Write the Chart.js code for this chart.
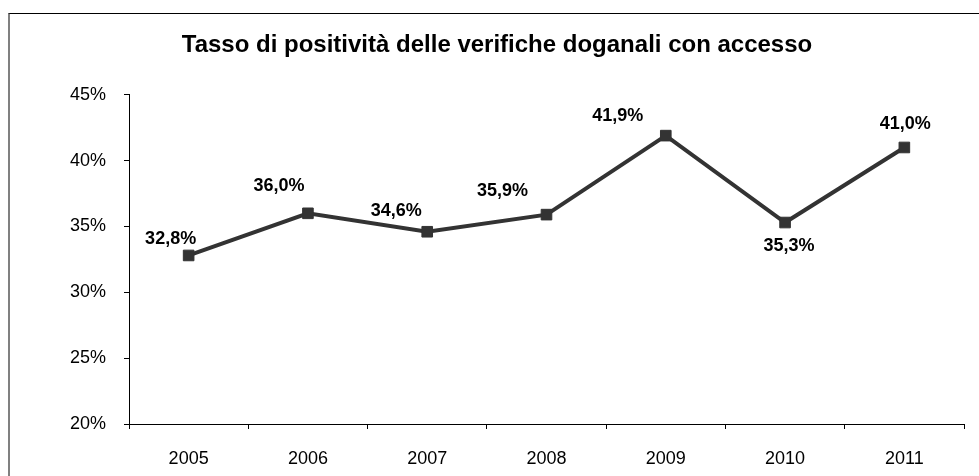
<!DOCTYPE html>
<html lang="it">
<head>
  <meta charset="UTF-8">
  <title>Tasso di positività</title>
  <script src="https://cdn.jsdelivr.net/npm/chart.js"></script>
  <style>
    body {
      margin: 0;
      font-family: "Liberation Sans", Arial, sans-serif;
      background: #fff;
    }
    #wrap {
      position: relative;
      width: 979px;
      height: 476px;
    }
    #frame {
      position: absolute;
      left: 8px;
      top: 13px;
      right: -5px;
      bottom: -5px;
      border-top: 1px solid #000;
      border-left: 2px solid #808080;
    }
    canvas {
      position: absolute;
      left: 0;
      top: 0;
    }
  </style>
</head>
<body>
  <div id="wrap">
    <div id="frame"></div>
    <canvas id="chart" width="979" height="476"></canvas>
  </div>

  <script>
    const anni = ['2005', '2006', '2007', '2008', '2009', '2010', '2011'];
    const tasso = [32.8, 36.0, 34.6, 35.9, 41.9, 35.3, 41.0];
    const yTicks = [20, 25, 30, 35, 40, 45];

    // spostamento delle etichette rispetto al punto (px)
    const labelDx = [-18, -29, -31, -44, -48, 4, 1];
    const labelDy = [-16, -27, -21, -24, -20, 24, -23];

    const fmt = v => v.toFixed(1).replace('.', ',') + '%';

    const etichette = {
      id: 'etichette',
      afterDatasetsDraw(chart) {
        const ctx = chart.ctx;
        const meta = chart.getDatasetMeta(0);
        ctx.save();
        ctx.font = 'bold 18px "Liberation Sans", Arial, sans-serif';
        ctx.fillStyle = '#000';
        ctx.textAlign = 'center';
        ctx.textBaseline = 'middle';
        meta.data.forEach((pt, i) => {
          ctx.fillText(fmt(tasso[i]), pt.x + labelDx[i], pt.y + labelDy[i]);
        });
        ctx.restore();
      }
    };

    const ctx = document.getElementById('chart').getContext('2d');
    new Chart(ctx, {
      type: 'line',
      data: {
        labels: anni,
        datasets: [{
          data: tasso,
          borderColor: '#333333',
          backgroundColor: '#333333',
          borderWidth: 4,
          pointStyle: 'rect',
          pointRadius: 7.5,
          pointBorderWidth: 1,
          tension: 0
        }]
      },
      options: {
        responsive: false,
        animation: false,
        layout: {
          padding: { left: 30, right: 15, top: 20, bottom: 0 }
        },
        plugins: {
          legend: { display: false },
          tooltip: { enabled: false },
          title: {
            display: true,
            text: 'Tasso di positività delle verifiche doganali con accesso',
            color: '#000',
            font: { family: '"Liberation Sans", Arial, sans-serif', size: 24, weight: 'bold' },
            padding: { top: 11, bottom: 35 }
          }
        },
        scales: {
          x: {
            offset: true,
            grid: {
              offset: true,
              drawOnChartArea: false,
              drawTicks: true,
              tickLength: 5,
              color: '#000'
            },
            border: { color: '#000', width: 1 },
            ticks: {
              color: '#000',
              padding: 19,
              font: { family: '"Liberation Sans", Arial, sans-serif', size: 18 }
            },
            afterFit(scale) { scale.height = 52; }
          },
          y: {
            min: 20,
            max: 45,
            afterBuildTicks(scale) {
              scale.ticks = yTicks.map(v => ({ value: v }));
            },
            grid: {
              drawOnChartArea: false,
              drawTicks: true,
              tickLength: 5,
              color: '#000'
            },
            border: { color: '#000', width: 1 },
            ticks: {
              color: '#000',
              padding: 18,
              font: { family: '"Liberation Sans", Arial, sans-serif', size: 18 },
              callback: v => v + '%'
            },
            afterFit(scale) { scale.width = 99; }
          }
        }
      },
      plugins: [etichette]
    });
  </script>
</body>
</html>
